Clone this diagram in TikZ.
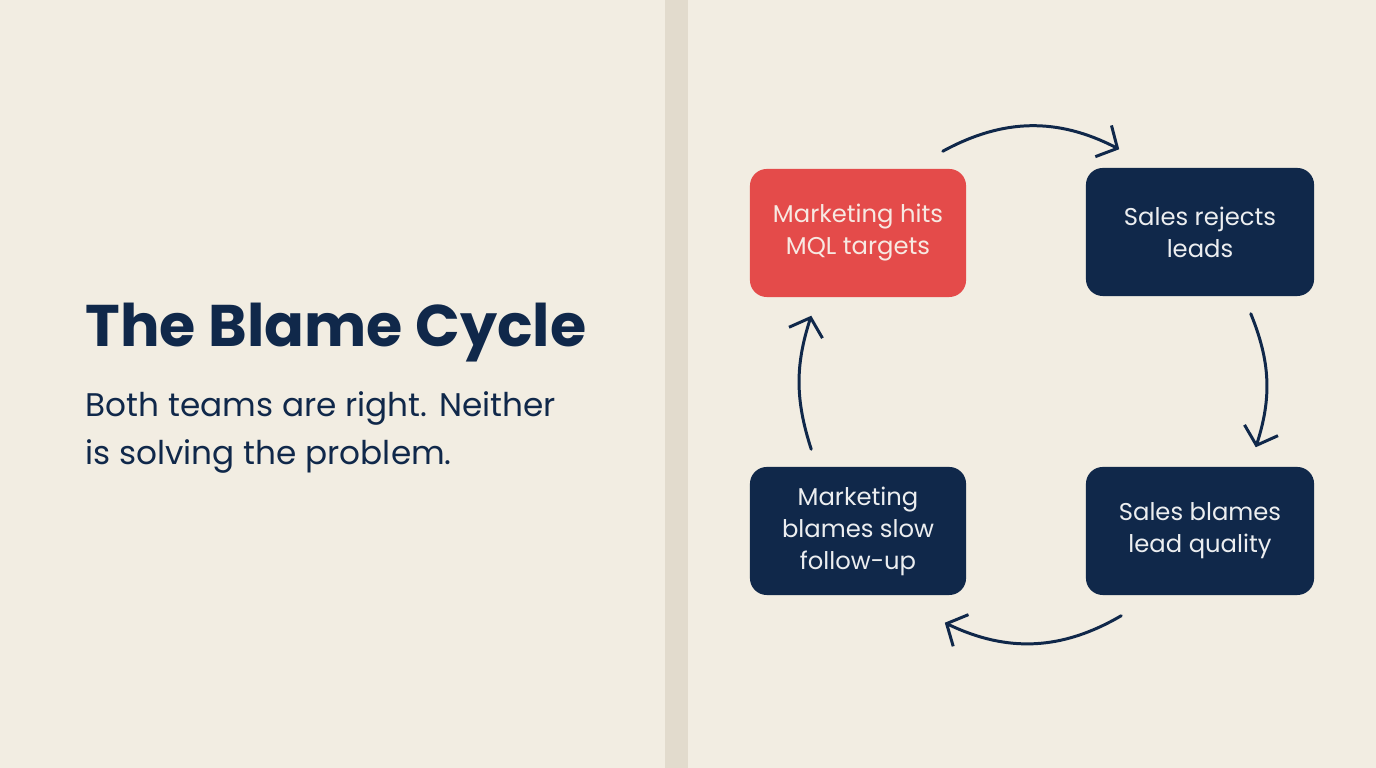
\documentclass[tikz,border=0pt]{standalone}
\usepackage{fontspec}
\setmainfont{Poppins}
\usetikzlibrary{arrows.meta}
\definecolor{paper}{HTML}{F2EDE2}
\definecolor{rule}{HTML}{E2DBCD}
\definecolor{navy}{HTML}{10284A}
\definecolor{alert}{HTML}{E44B4A}
\definecolor{cream}{HTML}{F7E9E2}

\begin{document}
\begin{tikzpicture}[
        x=0.01cm, y=-0.01cm,
        card/.style={
            rounded corners=4.8pt, minimum height=1.28cm, align=center,
            inner sep=0pt, font=\fontsize{6.9}{9.1}\selectfont
        },
        navycard/.style={card, fill=navy, text=white!92!navy, minimum width=2.28cm},
        redcard/.style={card, fill=alert, text=cream, minimum width=2.16cm},
        cycle arrow/.style={
            draw=navy, line width=0.85pt, line cap=round,
            -{Straight Barb[length=4.5pt, width=10pt, line width=0.85pt]}
        }
    ]
    % page and divider
    \fill[paper] (0,0) rectangle (1376,768);
    \fill[rule] (665,0) rectangle (688,768);
    \useasboundingbox (0,0) rectangle (1376,768);

    % left column
    \node[anchor=base west, inner sep=0pt, text=navy,
        font=\fontsize{16.7}{20}\selectfont\bfseries] (title) at (85,347) {The Blame Cycle};
    \node[anchor=north west, inner sep=0pt, text=navy, align=left,
        font=\fontsize{9.3}{13.7}\selectfont] (lede) at (85,391)
        {Both teams are right. Neither\\is solving the problem.};

    % the four boxes
    \node[redcard] (mql) at (858,233) {Marketing hits\\MQL targets};
    \node[navycard] (reject) at (1200,232) {Sales rejects\\leads};
    \node[navycard] (quality) at (1200,531) {Sales blames\\lead quality};
    \node[navycard, minimum width=2.16cm] (slow) at (858,531) {Marketing\\blames slow\\follow-up};

    % arrows round the cycle (y runs downwards here)
    \draw[cycle arrow] ([shift={(-24,-17)}]mql.north east)
        to[bend left=28] ([shift={(34,-18)}]reject.north west);
    \draw[cycle arrow] ([shift={(-64,17)}]reject.south east)
        to[bend left=20] ([shift={(-59,-19)}]quality.north east);
    \draw[cycle arrow] ([shift={(36,20)}]quality.south west)
        to[bend left=28] ([shift={(-22,27)}]slow.south east);
    \draw[cycle arrow] ([shift={(62,-17)}]slow.north west)
        to[bend left=18] ([shift={(62,18)}]mql.south west);
\end{tikzpicture}
\end{document}
